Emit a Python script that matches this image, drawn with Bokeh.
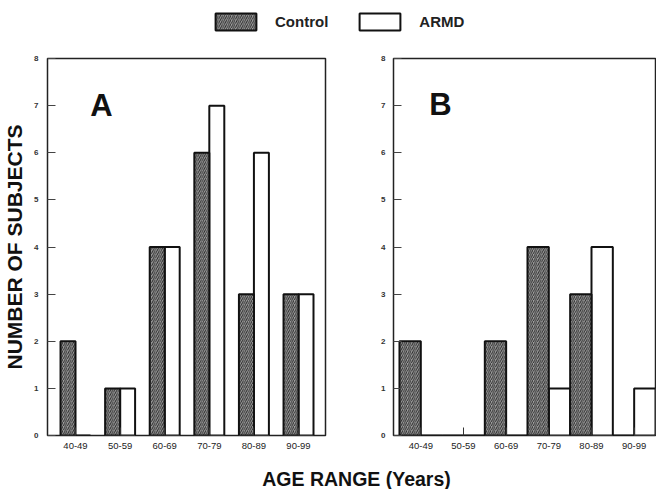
from bokeh.plotting import figure
from bokeh.layouts import column, row
from bokeh.models import Range1d, FixedTicker, Label, Legend, LegendItem, ColumnDataSource
from bokeh.embed import file_html
from bokeh.resources import INLINE

# ---- data ----
age_ranges = ["40-49", "50-59", "60-69", "70-79", "80-89", "90-99"]
a_control = [2, 1, 4, 6, 3, 3]
a_armd = [0, 1, 4, 7, 6, 3]
b_control = [2, 0, 2, 4, 3, 0]
b_armd = [0, 0, 0, 1, 4, 1]
series_names = ["Control", "ARMD"]
y_ticks = [0, 1, 2, 3, 4, 5, 6, 7, 8]
panel_letters = ["A", "B"]
x_title = "AGE RANGE (Years)"
y_title = "NUMBER OF SUBJECTS"

FONT = "Liberation Sans"
HATCH = dict(fill_color="#a4a4a4", hatch_pattern="/", hatch_color="#2a2a2a",
             hatch_scale=4.2, hatch_weight=1.0, line_color="#111111", line_width=2)
OPEN = dict(fill_color="white", line_color="#111111", line_width=2)


def panel(ctrl, armd, bar_w, x0, x1, width, height, bl, br, bt, bb, letter, lx, ly,
          ylabel=None, ystand=9):
    p = figure(width=width, height=height, x_range=Range1d(x0, x1), y_range=Range1d(0, 8),
               output_backend="svg", toolbar_location=None,
               min_border_left=bl, min_border_right=br, min_border_top=bt, min_border_bottom=bb)
    idx = list(range(len(age_ranges)))
    src = ColumnDataSource(dict(
        xc=[i - bar_w / 2 for i in idx], xa=[i + bar_w / 2 for i in idx],
        ctrl=ctrl, armd=armd))
    p.vbar(x="xa", top="armd", bottom=0, width=bar_w, source=src, **OPEN)
    p.vbar(x="xc", top="ctrl", bottom=0, width=bar_w, source=src, **HATCH)
    p.xgrid.visible = False
    p.ygrid.visible = False
    p.outline_line_color = "#222222"
    p.outline_line_width = 1.5
    p.background_fill_color = "white"
    p.border_fill_color = "white"

    xa = p.xaxis[0]
    xa.ticker = FixedTicker(ticks=idx)
    xa.major_label_overrides = {i: lab for i, lab in enumerate(age_ranges)}
    xa.major_label_text_font = FONT
    xa.major_label_text_font_size = "9.5px"
    xa.major_label_text_color = "#222222"
    xa.major_label_standoff = 7
    xa.major_tick_in = 8
    xa.major_tick_out = 0
    xa.major_tick_line_color = "#333333"
    xa.minor_tick_line_color = None
    xa.axis_line_color = None

    ya = p.yaxis[0]
    ya.ticker = FixedTicker(ticks=y_ticks)
    ya.major_label_text_font = FONT
    ya.major_label_text_font_size = "8px"
    ya.major_label_text_font_style = "bold"
    ya.major_label_text_color = "#333333"
    ya.major_label_standoff = ystand
    ya.major_tick_in = 8
    ya.major_tick_out = 0
    ya.major_tick_line_color = "#444444"
    ya.minor_tick_line_color = None
    ya.axis_line_color = None
    if ylabel:
        ya.axis_label = ylabel
        ya.axis_label_text_font = FONT
        ya.axis_label_text_font_style = "bold"
        ya.axis_label_text_font_size = "21px"
        ya.axis_label_text_color = "#111111"
        ya.axis_label_standoff = 5

    p.add_layout(Label(x=lx, y=ly, text=letter, text_font=FONT, text_font_style="bold",
                       text_font_size="31px", text_color="#111111",
                       text_align="left", text_baseline="alphabetic"))
    return p


pa = panel(a_control, a_armd, 0.336, -0.628, 5.605, 365, 407, 47, 40, 7, 20,
           panel_letters[0], 0.33, 7.0, ylabel=y_title, ystand=9)
pb = panel(b_control, b_armd, 0.5, -0.64, 5.5, 291, 407, 28, 1, 10, 19,
           panel_letters[1], 0.2, 7.03, ystand=8)

# ---- legend strip ----
leg = figure(width=656, height=48, x_range=Range1d(0, 1), y_range=Range1d(0, 1),
             output_backend="svg", toolbar_location=None,
             x_axis_location=None, y_axis_location=None,
             min_border_left=0, min_border_right=0, min_border_top=0, min_border_bottom=0)
leg.outline_line_color = None
leg.xgrid.visible = False
leg.ygrid.visible = False
# legend proxies: muted (fully transparent) in the plot, normal styling in the legend
proxy_src = ColumnDataSource(dict(x=[0.5], top=[0.5]))
MUTE = dict(muted_fill_alpha=0, muted_line_alpha=0, muted_hatch_alpha=0)
r_ctrl = leg.vbar(x="x", top="top", width=0.01, source=proxy_src, **HATCH, **MUTE)
r_armd = leg.vbar(x="x", top="top", width=0.01, source=proxy_src, **OPEN, **MUTE)
r_ctrl.muted = True
r_armd.muted = True
legend = Legend(items=[LegendItem(label=series_names[0], renderers=[r_ctrl]),
                       LegendItem(label=series_names[1], renderers=[r_armd])],
                location=(210, 16), orientation="horizontal", click_policy="none",
                glyph_width=51, glyph_height=21, label_standoff=14, spacing=26,
                padding=0, margin=0, border_line_color=None, background_fill_alpha=0,
                label_text_font=FONT, label_text_font_style="bold",
                label_text_font_size="15px", label_text_color="#222222")
leg.add_layout(legend)

# ---- x title strip ----
tf = figure(width=656, height=34, x_range=Range1d(0, 656), y_range=Range1d(0, 34),
            output_backend="svg", toolbar_location=None,
            x_axis_location=None, y_axis_location=None,
            min_border_left=0, min_border_right=0, min_border_top=0, min_border_bottom=0)
tf.outline_line_color = None
tf.xgrid.visible = False
tf.ygrid.visible = False
tf.add_layout(Label(x=356, y=11, text=x_title, text_font=FONT, text_font_style="bold",
                    text_font_size="19.5px", text_color="#111111",
                    text_align="center", text_baseline="alphabetic"))

layout = column(leg, row(pa, pb), tf)
open("out.html", "w").write(file_html(layout, INLINE))
